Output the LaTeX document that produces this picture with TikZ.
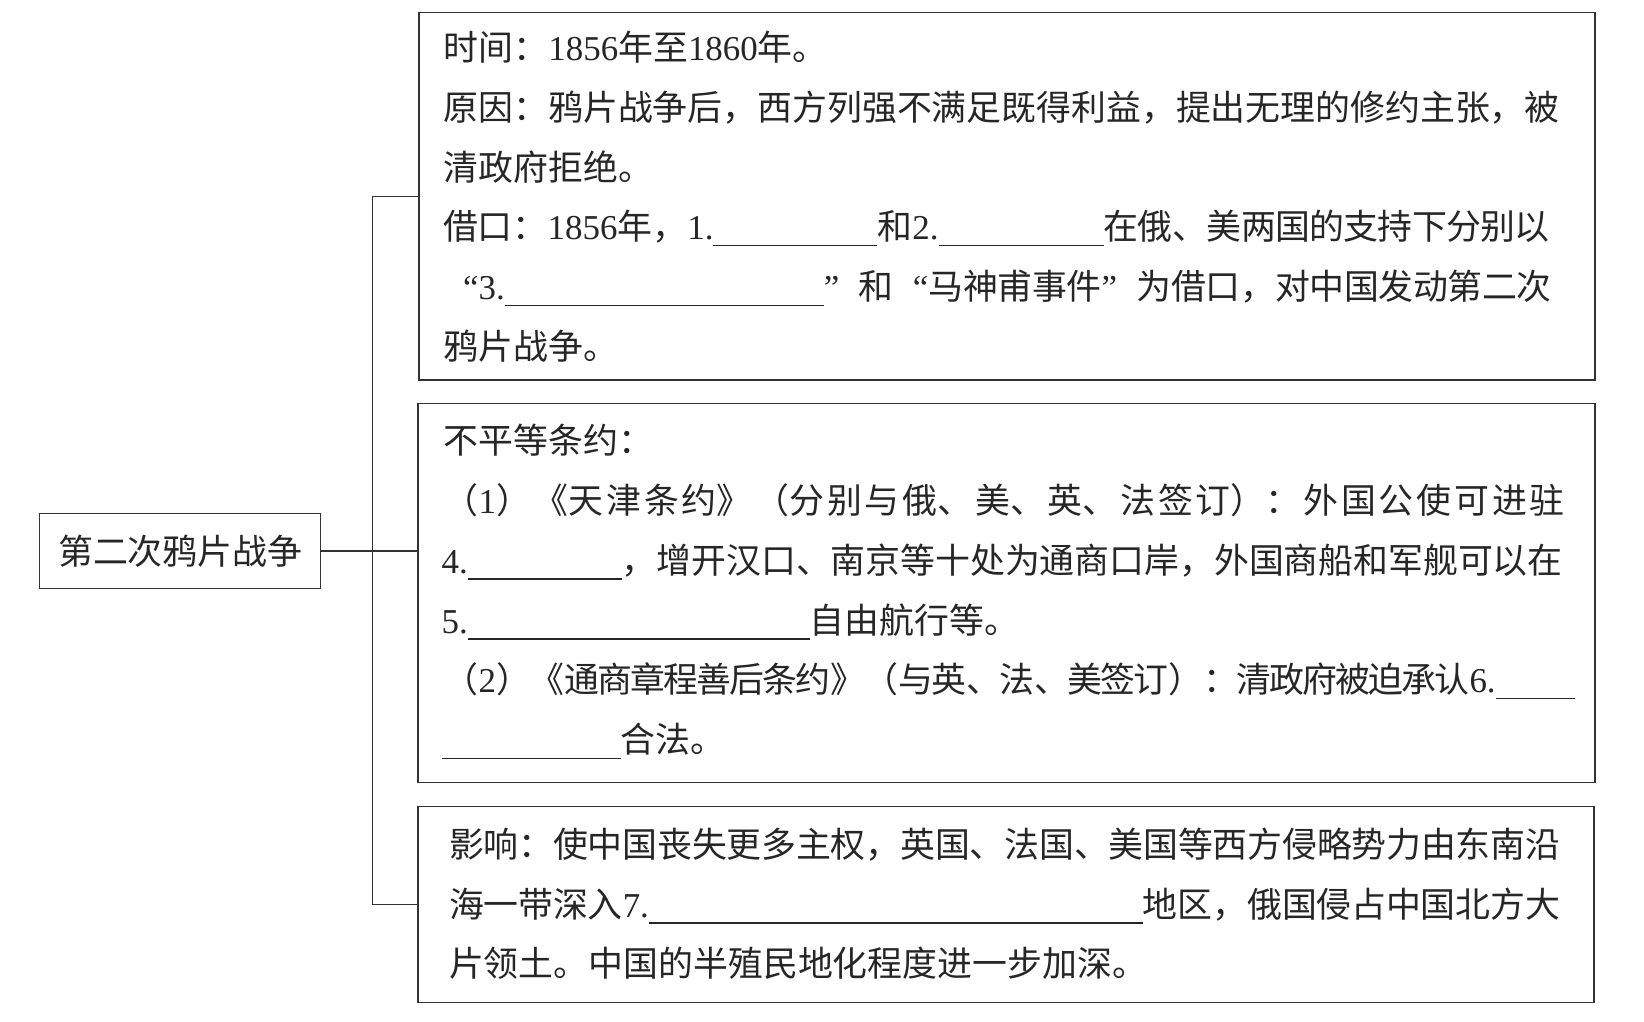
\documentclass[tikz,border=0pt]{standalone}
\usepackage{fontspec}
\setmainfont{Liberation Serif}
\newfontfamily\cjk{Noto Sans CJK SC}
\newcommand\lat[1]{{\rmfamily#1}}
\newcommand\blank[1]{\rule[-6.5pt]{#1pt}{1.3pt}}
\newcommand\oq{\makebox[1em][r]{\lat{“}}}
\newcommand\cq{\makebox[1em][l]{\lat{”}}}
% one justified line of the given width
\newcommand\jl[2]{\parbox[b]{#1pt}{\XeTeXlinebreaklocale "zh"\XeTeXlinebreakskip=0pt plus 6pt minus 2pt\XeTeXlinebreakpenalty=10000 \parfillskip=0pt #2}}
\begin{document}
\begin{tikzpicture}[x=1pt,y=-1pt,font=\cjk\fontsize{34.9}{40}\selectfont,text=black!85,
  frame/.style={draw=black!80,line width=1.3pt,inner sep=0pt},
  txt/.style={anchor=base west,inner sep=0pt},
  link/.style={draw=black!80,line width=1.3pt}]
\useasboundingbox(0,0)rectangle(1644,1022);
\node[frame,minimum width=281pt,minimum height=74.4pt](war)at(180.3,551){第二次鸦片战争};
\node[frame,minimum width=1176pt,minimum height=367.4pt](cause)at(1007,196.3){};
\node[frame,minimum width=1177pt,minimum height=378.5pt](treaty)at(1006.5,593){};
\node[frame,minimum width=1176pt,minimum height=196pt](effect)at(1006,904.4){};
\coordinate(fork)at(372.2,551);
\draw[link](war.east)--(war.east-|treaty.west);\draw[link](cause.west)-|(fork)|-(effect.west);
% time, cause, pretext
\node[txt](c1)at(443.5,60.5){时间：\lat{1856}年至\lat{1860}年。};
\node[txt](c2)at(443.5,120.2){\jl{1116}{原因：鸦片战争后，西方列强不满足既得利益，提出无理的修约主张，被}};
\node[txt](c3)at(443.5,180.0){清政府拒绝。};
\node[txt](c4)at(443.5,239.8){\jl{1106}{借口：\lat{1856}年，\lat{1.}\blank{164}和\lat{2.}\blank{165}在俄、美两国的支持下分别以}};
\node[txt](c5)at(443.5,299.5){\jl{1108}{\oq{}\lat{3.}\blank{319}\cq{}和\oq{}马神甫事件\cq{}为借口，对中国发动第二次}};
\node[txt](c6)at(443.5,359.3){鸦片战争。};
% treaties
\node[txt](t1)at(443.5,453.7){不平等条约：};
\node[txt](t2)at(443.5,513.4){\jl{1121}{（\lat{1}）《天津条约》（分别与俄、美、英、法签订）：外国公使可进驻}};
\node[txt](t3)at(441.4,573.2){\jl{1121}{\lat{4.}\blank{154}，增开汉口、南京等十处为通商口岸，外国商船和军舰可以在}};
\node[txt](t4)at(441.4,633.0){\lat{5.}\blank{342}自由航行等。};
\node[txt](t5)at(443.5,692.7){\jl{1131}{（\lat{2}）《通商章程善后条约》（与英、法、美签订）：清政府被迫承认\lat{6.}\blank{79}}};
\node[txt](t6)at(441.4,752.5){\blank{179}合法。};
% impact
\node[txt](e1)at(448.8,857.3){\jl{1111}{影响：使中国丧失更多主权，英国、法国、美国等西方侵略势力由东南沿}};
\node[txt](e2)at(448.8,917.1){\jl{1111}{海一带深入\lat{7.}\blank{494}地区，俄国侵占中国北方大}};
\node[txt](e3)at(448.8,976.9){片领土。中国的半殖民地化程度进一步加深。};
\end{tikzpicture}
\end{document}
